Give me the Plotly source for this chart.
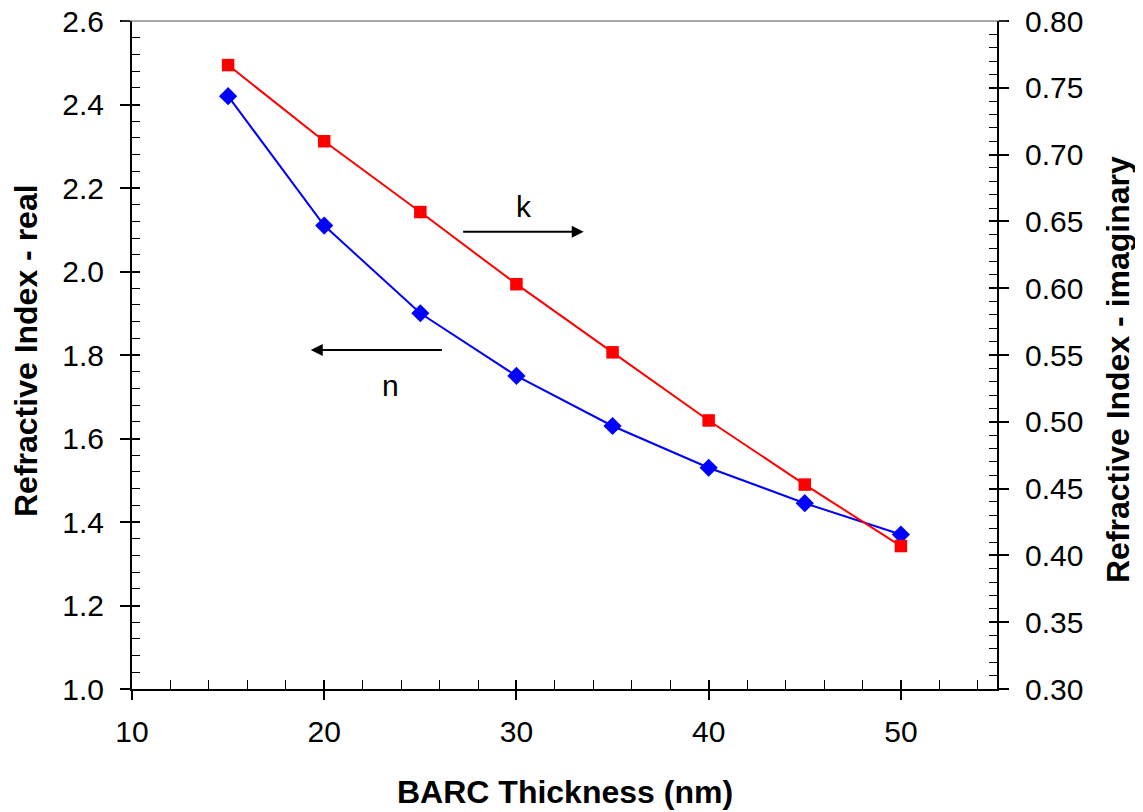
import plotly.graph_objects as go

thickness = [15, 20, 25, 30, 35, 40, 45, 50]
n_real = [2.42, 2.11, 1.90, 1.75, 1.63, 1.53, 1.445, 1.37]
k_imag = [0.767, 0.710, 0.657, 0.603, 0.552, 0.501, 0.453, 0.407]

FONT = "Liberation Sans, Arial, sans-serif"

# page body has an 8px margin, so the figure is drawn 8px smaller and offset
PW, PH = 865, 668   # plot area in px
L, T = 132 - 8, 21 - 8

fig = go.Figure()
fig.add_trace(go.Scatter(x=thickness, y=n_real, mode="lines+markers", name="n",
                         line=dict(color="#0000FF", width=2),
                         marker=dict(symbol="diamond", size=14, color="#0000FF"),
                         xaxis="x", yaxis="y"))
fig.add_trace(go.Scatter(x=thickness, y=k_imag, mode="lines+markers", name="k",
                         line=dict(color="#FF0000", width=2),
                         marker=dict(symbol="square", size=12.5, color="#FF0000"),
                         xaxis="x", yaxis="y2"))
# invisible helper traces so the overlay tick axes are drawn
fig.add_trace(go.Scatter(x=[10], y=[1.0], mode="markers", opacity=0, showlegend=False,
                         hoverinfo="skip", xaxis="x2", yaxis="y3"))
fig.add_trace(go.Scatter(x=[10], y=[0.3], mode="markers", opacity=0, showlegend=False,
                         hoverinfo="skip", xaxis="x2", yaxis="y4"))

tickfont = dict(family=FONT, size=30, color="black")
titlefont = dict(family=FONT, size=32, color="black")

fig.update_layout(
    width=1135, height=804,
    margin=dict(l=L, r=1135 - L - PW, t=T, b=804 - T - PH, autoexpand=False),
    paper_bgcolor="white", plot_bgcolor="white",
    showlegend=False,
    xaxis=dict(range=[10, 55], tickvals=[10, 20, 30, 40, 50], ticks="outside", ticklen=9,
               tickwidth=1.5, tickcolor="black", showline=True, linecolor="black", linewidth=2,
               showgrid=False, zeroline=False, tickfont=tickfont, automargin=False,
               ticklabelstandoff=6, ticklabeloverflow="allow"),
    xaxis2=dict(range=[10, 55], overlaying="x", side="bottom", tickvals=[10, 20, 30, 40, 50],
                ticks="inside", ticklen=9, tickwidth=1.5, tickcolor="black", showticklabels=False,
                showline=False, showgrid=False, zeroline=False, automargin=False,
                minor=dict(ticks="inside", dtick=2, tick0=10, ticklen=9, tickwidth=1,
                           tickcolor="black", showgrid=False)),
    yaxis=dict(range=[1.0, 2.6], dtick=0.2, tickformat=".1f", ticks="outside", ticklen=10,
               tickwidth=1.5, tickcolor="black", showline=True, linecolor="black", linewidth=2,
               showgrid=False, zeroline=False, tickfont=tickfont, automargin=False,
               ticklabelstandoff=10, ticklabeloverflow="allow"),
    yaxis2=dict(range=[0.3, 0.8], dtick=0.05, tickformat=".2f", overlaying="y", side="right",
                ticks="outside", ticklen=10, tickwidth=1.5, tickcolor="black", showline=True,
                linecolor="black", linewidth=2, showgrid=False, zeroline=False, tickfont=tickfont,
                automargin=False, ticklabelstandoff=10, ticklabeloverflow="allow"),
    yaxis3=dict(range=[1.0, 2.6], dtick=0.2, overlaying="y", side="left", ticks="inside",
                ticklen=8, tickwidth=1.5, tickcolor="black", showticklabels=False, showline=False,
                showgrid=False, zeroline=False, automargin=False,
                minor=dict(ticks="inside", dtick=0.04, ticklen=8, tickwidth=1, tickcolor="black",
                           showgrid=False)),
    yaxis4=dict(range=[0.3, 0.8], dtick=0.05, overlaying="y", side="right", ticks="inside",
                ticklen=8, tickwidth=1.5, tickcolor="black", showticklabels=False, showline=False,
                showgrid=False, zeroline=False, automargin=False,
                minor=dict(ticks="inside", dtick=0.01, ticklen=8, tickwidth=1, tickcolor="black",
                           showgrid=False)),
)

# axis titles (positions relative to the plot area, measured in reference pixels)
fig.add_annotation(x=(565 - 132) / PW, y=-(792 - 689) / PH, xref="paper", yref="paper",
                   text="<b>BARC Thickness (nm)</b>", showarrow=False, font=titlefont,
                   xanchor="center", yanchor="middle")
fig.add_annotation(x=-(132 - 26) / PW, y=(689 - 351) / PH, xref="paper", yref="paper",
                   text="<b>Refractive Index - real</b>", showarrow=False, font=titlefont,
                   textangle=-90, xanchor="center", yanchor="middle")
fig.add_annotation(x=1 + (1118 - 997) / PW, y=(689 - 370) / PH, xref="paper", yref="paper",
                   text="<b>Refractive Index - imaginary</b>", showarrow=False, font=titlefont,
                   textangle=-90, xanchor="center", yanchor="middle")

# top border (thin grey)
fig.add_shape(type="line", xref="paper", yref="paper", x0=-0.012, x1=1.012, y0=1, y1=1,
              line=dict(color="#555555", width=1.2))

# direction arrows and labels
fig.add_annotation(x=33.5, y=2.095, ax=27.15, ay=2.095, xref="x", yref="y", axref="x", ayref="y",
                   showarrow=True, arrowhead=2, arrowsize=1.2, arrowwidth=2, arrowcolor="black", text="")
fig.add_annotation(x=19.3, y=1.812, ax=26.2, ay=1.812, xref="x", yref="y", axref="x", ayref="y",
                   showarrow=True, arrowhead=2, arrowsize=1.2, arrowwidth=2, arrowcolor="black", text="")
fig.add_annotation(x=30.4, y=2.155, xref="x", yref="y", text="k", showarrow=False,
                   font=dict(family=FONT, size=30, color="black"))
fig.add_annotation(x=23.45, y=1.728, xref="x", yref="y", text="n", showarrow=False,
                   font=dict(family=FONT, size=30, color="black"))

fig.write_html("out.html")
